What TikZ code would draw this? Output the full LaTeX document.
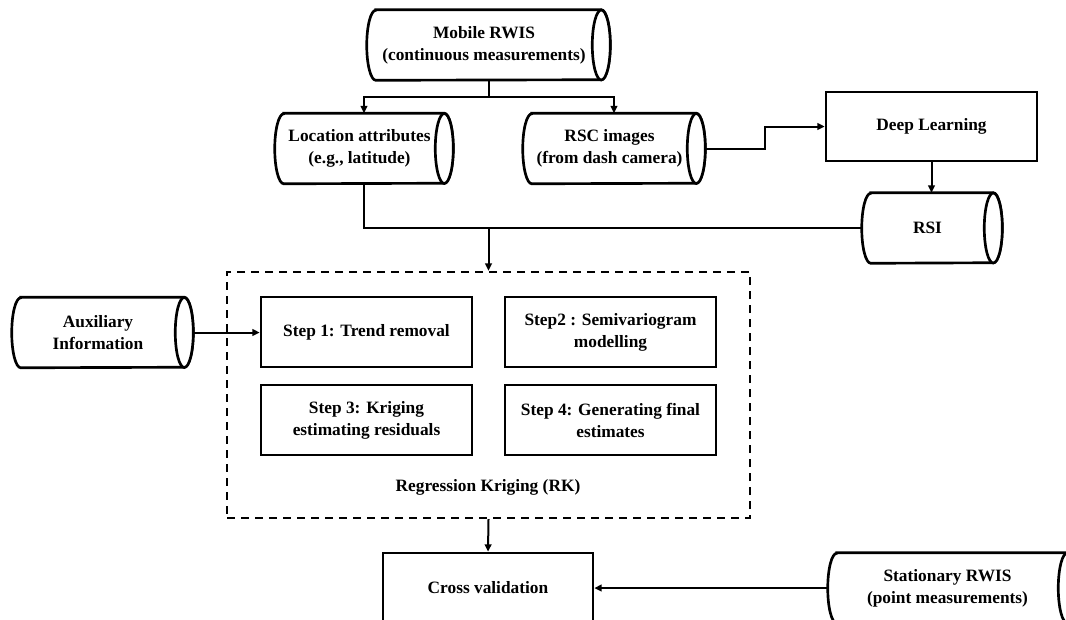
\documentclass[tikz,border=0pt]{standalone}
\usepackage{fontspec}
\setmainfont{Liberation Serif}
\usetikzlibrary{arrows.meta,calc}
\newcommand\drawcyl[1]{%
  \draw[cylline] ([xshift=6.75pt]#1.north west) -- (#1.north east)
    arc[start angle=90,end angle=-90,x radius=6.75pt,y radius=26.25pt]
    -- ([xshift=6.75pt]#1.south west)
    arc[start angle=270,end angle=90,x radius=6.75pt,y radius=26.25pt] -- cycle;
  \draw[cylline] (#1.east) ellipse[x radius=6.75pt,y radius=26.25pt];}
\begin{document}
\begin{tikzpicture}[x=0.75pt,y=-0.75pt,
  txt/.style={font=\bfseries\fontsize{13}{16.5}\selectfont,align=center,inner sep=0pt},
  cylnode/.style={txt,draw=none,minimum height=52.5pt},
  cylline/.style={line width=2pt,fill=white},
  boxnode/.style={txt,draw,line width=2pt,minimum height=52.5pt,minimum width=158.25pt},
  rkbox/.style={draw,line width=1.8pt,dash pattern=on 6pt off 4.5pt,minimum width=392.25pt,minimum height=184.5pt,inner sep=0pt},
  conn/.style={line width=1.5pt},
  arr/.style={conn,-{Triangle[length=5.5pt,width=5pt]}}]
\useasboundingbox (0,0) rectangle (1066,619);
\clip (0,0) rectangle (1066,619);

% cylinders (node body excludes right half of the end ellipse)
\node[cylnode,minimum width=175.5pt] (mob) at (484,45) {Mobile RWIS\\(continuous measurements)};
\node[cylnode,minimum width=126.75pt] (loc) at (359.5,148.5) {Location attributes\\(e.g., latitude)};
\node[cylnode,minimum width=129.75pt] (rsc) at (609.5,148.5) {RSC images\\(from dash camera)};
\node[cylnode,minimum width=98.25pt] (rsi) at (927.5,228) {RSI};
\node[cylnode,minimum width=129pt] (aux) at (98,332.5) {Auxiliary\\Information};
\node[cylnode,minimum width=179.25pt] (st) at (947.5,588) {Stationary RWIS\\(point measurements)};
\foreach \n in {mob,loc,rsc,rsi,aux,st}{\drawcyl{\n}}
\node[txt] at (mob) {Mobile RWIS\\(continuous measurements)};
\node[txt] at (loc) {Location attributes\\(e.g., latitude)};
\node[txt] at (rsc) {RSC images\\(from dash camera)};
\node[txt] at (rsi) {RSI};
\node[txt] at (aux) {Auxiliary\\Information};
\node[txt] at (st) {Stationary RWIS\\(point measurements)};

% rectangles
\node[boxnode,minimum height=51.75pt] (dl) at (931.5,126.5) {Deep Learning};
\node[boxnode] (s1) at (366.5,332) {Step 1: Trend removal};
\node[boxnode] (s2) at (610.5,332) {Step2 : Semivariogram\\modelling};
\node[boxnode] (s3) at (366.5,420) {Step 3: Kriging\\estimating residuals};
\node[boxnode] (s4) at (610.5,420) {Step 4: Generating final\\estimates};
\node[rkbox] (rk) at (488.5,395) {};
\node[txt] (rkl) at (488,487) {Regression Kriging (RK)};
\node[boxnode,minimum width=157.5pt] (cv) at (488,588) {Cross validation};

% connectors
\coordinate (mobB) at ($(mob.south)+(4.5,0)$);
\coordinate (locT) at ($(loc.north)+(4.5,0)$);
\coordinate (locB) at ($(loc.south)+(4.5,0)$);
\coordinate (rscT) at ($(rsc.north)+(4.5,0)$);
\coordinate (rscE) at ($(rsc.east)+(6.75pt,0)$);
\coordinate (auxE) at ($(aux.east)+(6.75pt,0)$);
\coordinate (j1) at ($(mobB)+(0,17)$);
\draw[conn] (mobB) -- (j1);
\draw[arr] (j1) -| (locT);
\draw[arr] (j1) -| (rscT);
\draw[conn] (locB) |- (rsi.west);
\coordinate (j2) at (rk.north |- rsi.west);
\draw[arr] (j2) -- (rk.north);
\draw[arr] (rscE) -- ++(60,0) |- (dl.west);
\draw[arr] (dl.south) -- (dl.south |- rsi.north);
\draw[arr] (auxE) -- (aux.east -| s1.west);
\draw[arr] (rk.south) -- (cv.north);
\draw[arr] (st.west) -- (st.west -| cv.east);
\end{tikzpicture}
\end{document}
